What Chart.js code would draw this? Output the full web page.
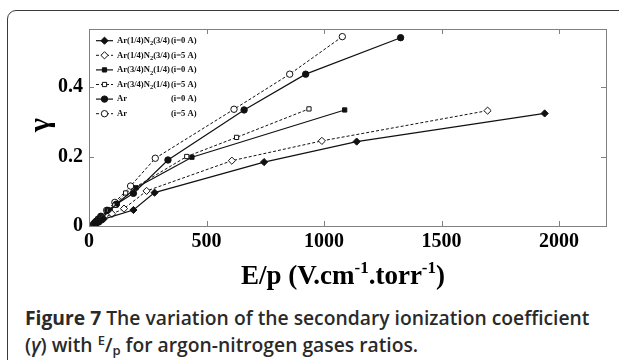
<!DOCTYPE html>
<html><head><meta charset="utf-8">
<script src="https://cdn.jsdelivr.net/npm/chart.js@4.4.1/dist/chart.umd.min.js"></script>
<style>
html,body{margin:0;padding:0;background:#fff;width:619px;height:360px;overflow:hidden;}
#box{position:absolute;left:7px;top:10px;width:700px;height:500px;border:1.5px solid #3a3a3a;border-radius:9px;}
#c{position:absolute;left:0;top:0;}
#cap{position:absolute;left:25px;top:306px;font-family:"Open Sans",sans-serif;font-size:19.3px;font-weight:600;line-height:23px;color:#2a2a2a;white-space:nowrap;}
#cap b{font-weight:700;}
#cap sup,#cap sub{font-size:13px;}
#cap sup{vertical-align:7px;} #cap sub{vertical-align:-3px;}
</style></head>
<body>
<div id="box"></div>
<canvas id="c" width="619" height="300"></canvas>
<div id="cap"><b>Figure 7</b> The variation of the secondary ionization coefficient<br>(<i>γ</i>) with <sup>E</sup>/<sub>p</sub> for argon-nitrogen gases ratios.</div>
<script>
// ---- data ----
const xTicks = [0, 500, 1000, 1500, 2000];
const yTicks = [0, 0.2, 0.4];
const legendMain = ["Ar(1/4)N2(3/4)", "Ar(1/4)N2(3/4)", "Ar(3/4)N2(1/4)", "Ar(3/4)N2(1/4)", "Ar", "Ar"];
const legendCond = ["(i=0 A)", "(i=5 A)", "(i=0 A)", "(i=5 A)", "(i=0 A)", "(i=5 A)"];
const s1x = [25, 30, 38, 48, 62, 189, 279, 745, 1139, 1939];
const s1y = [0.004, 0.006, 0.009, 0.013, 0.02, 0.046, 0.096, 0.184, 0.243, 0.324];
const s2x = [24, 29, 36, 46, 60, 98, 149, 245, 608, 991, 1696];
const s2y = [0.004, 0.007, 0.01, 0.015, 0.022, 0.035, 0.05, 0.101, 0.188, 0.245, 0.332];
const s3x = [22, 28, 35, 44, 58, 90, 120, 200, 438, 1088];
const s3y = [0.005, 0.008, 0.012, 0.017, 0.025, 0.045, 0.065, 0.11, 0.198, 0.334];
const s4x = [22, 27, 34, 42, 55, 85, 110, 156, 416, 628, 936];
const s4y = [0.005, 0.008, 0.012, 0.018, 0.026, 0.045, 0.06, 0.095, 0.2, 0.255, 0.337];
const s5x = [20, 26, 32, 40, 52, 80, 115, 189, 336, 660, 922, 1326];
const s5y = [0.005, 0.009, 0.013, 0.018, 0.027, 0.045, 0.062, 0.094, 0.19, 0.334, 0.437, 0.542];
const s6x = [20, 25, 31, 39, 50, 75, 110, 177, 282, 617, 854, 1078];
const s6y = [0.006, 0.01, 0.014, 0.02, 0.028, 0.045, 0.068, 0.115, 0.195, 0.336, 0.437, 0.545];

const seriesX = [s1x, s2x, s3x, s4x, s5x, s6x];
const seriesY = [s1y, s2y, s3y, s4y, s5y, s6y];
const styles = ['rectRot', 'rectRot', 'rect', 'rect', 'circle', 'circle'];
const radii = [3.6, 3.6, 3, 3, 3.2, 3.2];
const filled = [true, false, true, false, true, false];

const datasets = seriesX.map((xs, i) => ({
  label: legendMain[i] + legendCond[i],
  data: xs.map((x, j) => ({x: x, y: seriesY[i][j]})),
  borderColor: '#111',
  borderWidth: filled[i] ? 1.2 : 1,
  borderDash: filled[i] ? [] : [3, 2],
  pointStyle: styles[i],
  pointRadius: radii[i],
  pointBorderWidth: 1,
  pointBorderColor: '#111',
  pointBackgroundColor: filled[i] ? '#111' : '#fff',
  showLine: true,
  fill: false,
  tension: 0
}));

const serif = '"Liberation Serif","Times New Roman",serif';

const deco = {
  id: 'deco',
  afterDraw(chart) {
    const ctx = chart.ctx, a = chart.chartArea;
    const xs = chart.scales.x, ys = chart.scales.y;
    ctx.save();
    // frame
    ctx.strokeStyle = '#808080';
    ctx.lineWidth = 1;
    ctx.strokeRect(Math.round(a.left) + 0.5, Math.round(a.top) + 0.5, Math.round(a.right - a.left), Math.round(a.bottom - a.top));
    // inner ticks
    ctx.beginPath();
    xTicks.forEach(v => {
      const p = Math.round(xs.getPixelForValue(v)) + 0.5;
      ctx.moveTo(p, a.bottom); ctx.lineTo(p, a.bottom - 5);
      ctx.moveTo(p, a.top); ctx.lineTo(p, a.top + 5);
    });
    yTicks.forEach(v => {
      const p = Math.round(ys.getPixelForValue(v)) + 0.5;
      ctx.moveTo(a.left, p); ctx.lineTo(a.left + 5, p);
      ctx.moveTo(a.right, p); ctx.lineTo(a.right - 5, p);
    });
    ctx.stroke();

    // legend
    const lf = 'bold 8.6px ' + serif, sf = 'bold 6.5px ' + serif;
    ctx.fillStyle = '#111';
    ctx.textBaseline = 'middle';
    const drawMain = (t, x, y, draw) => {
      const parts = t.split('N2');
      let cx = x;
      parts.forEach((p, k) => {
        ctx.font = lf;
        if (draw) ctx.fillText(p, cx, y);
        cx += ctx.measureText(p).width;
        if (k < parts.length - 1) {
          if (draw) ctx.fillText('N', cx, y);
          cx += ctx.measureText('N').width;
          ctx.font = sf;
          if (draw) ctx.fillText('2', cx, y + 3);
          cx += ctx.measureText('2').width;
        }
      });
      return cx;
    };
    const tx = 117;
    let condX = 0;
    legendMain.forEach(t => { condX = Math.max(condX, drawMain(t, tx, 0, false)); });
    chart.data.datasets.forEach((ds, i) => {
      const y = 40.7 + i * 14.6;
      ctx.strokeStyle = '#111';
      ctx.lineWidth = ds.borderWidth;
      ctx.setLineDash(ds.borderDash);
      ctx.beginPath(); ctx.moveTo(96, y); ctx.lineTo(113, y); ctx.stroke();
      ctx.setLineDash([]);
      ctx.lineWidth = 1;
      ctx.fillStyle = ds.pointBackgroundColor;
      Chart.helpers.drawPoint(ctx, {pointStyle: ds.pointStyle, radius: ds.pointRadius, borderWidth: 1, rotation: 0}, 104.5, y);
      ctx.fillStyle = '#111';
      drawMain(legendMain[i], tx, y, true);
      ctx.font = lf;
      ctx.fillText(legendCond[i], condX + 1, y);
    });

    // y title (rotated gamma)
    ctx.save();
    ctx.translate(41, 125);
    ctx.rotate(-Math.PI / 2);
    ctx.font = 'bold 30px ' + serif;
    ctx.textAlign = 'center';
    ctx.textBaseline = 'middle';
    ctx.fillStyle = '#000';
    ctx.fillText('γ', 0, 0);
    ctx.restore();

    // x title with superscripts
    const bf = 'bold 27px ' + serif, supf = 'bold 17px ' + serif;
    const segs = [['E/p (V.cm', bf, 0], ['-1', supf, -11], ['.torr', bf, 0], ['-1', supf, -11], [')', bf, 0]];
    let w = 0;
    segs.forEach(s => { ctx.font = s[1]; w += ctx.measureText(s[0]).width; });
    let cx = 343 - w / 2;
    ctx.textBaseline = 'alphabetic';
    ctx.textAlign = 'left';
    ctx.fillStyle = '#000';
    segs.forEach(s => { ctx.font = s[1]; ctx.fillText(s[0], cx, 284 + s[2]); cx += ctx.measureText(s[0]).width; });
    ctx.restore();
  }
};

new Chart(document.getElementById('c'), {
  type: 'scatter',
  data: {datasets: datasets},
  options: {
    responsive: false,
    animation: false,
    devicePixelRatio: 1,
    layout: {padding: {left: 0, top: 29, right: 13, bottom: 0}},
    plugins: {legend: {display: false}, tooltip: {enabled: false}},
    scales: {
      x: {
        type: 'linear', min: 0, max: 2200,
        grid: {display: false, drawTicks: false},
        border: {display: false},
        afterFit: s => { s.height = 74; },
        afterBuildTicks: s => { s.ticks = xTicks.map(v => ({value: v})); },
        ticks: {color: '#000', padding: 4, maxRotation: 0, font: {family: serif, size: 20, weight: 'bold'},
          callback: v => String(v)}
      },
      y: {
        type: 'linear', min: 0, max: 0.567,
        grid: {display: false, drawTicks: false},
        border: {display: false},
        afterFit: s => { s.width = 89; },
        afterBuildTicks: s => { s.ticks = yTicks.map(v => ({value: v})); },
        ticks: {color: '#000', padding: 6, font: {family: serif, size: 20, weight: 'bold'},
          callback: v => String(v)}
      }
    }
  },
  plugins: [deco]
});
</script>
</body></html>
